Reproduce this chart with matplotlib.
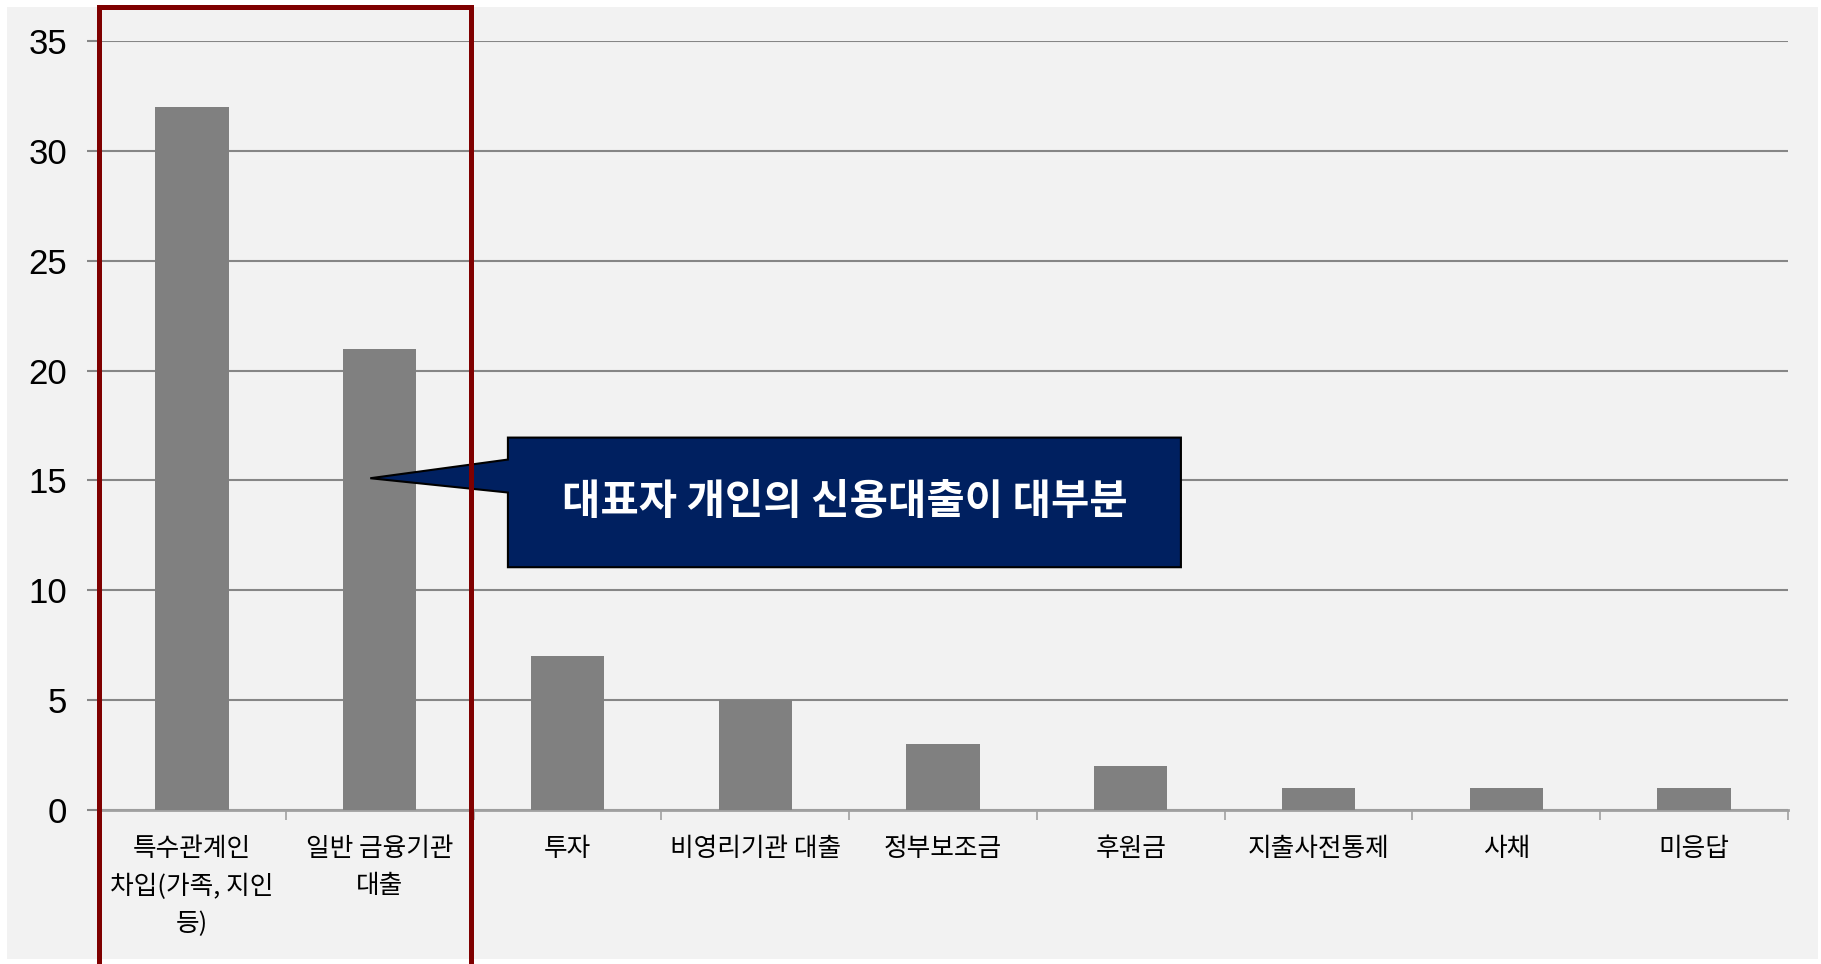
import matplotlib
matplotlib.use('Agg')
import matplotlib.pyplot as plt
from matplotlib.patches import Rectangle, Polygon
import numpy as np

# 데이터
categories = ["특수관계인\n차입(가족, 지인\n등)", "일반 금융기관\n대출", "투자", "비영리기관 대출",
              "정부보조금", "후원금", "지출사전통제", "사채", "미응답"]
values = [32, 21, 7, 5, 3, 2, 1, 1, 1]
yticks = [0, 5, 10, 15, 20, 25, 30, 35]
callout_text = "대표자 개인의 신용대출이 대부분"

W, H = 1821, 964
fig = plt.figure(figsize=(W / 100, H / 100), dpi=100)
fig.patch.set_facecolor('white')

# 배경 박스
fig.add_artist(Rectangle((7 / W, 1 - 959 / H), (1818 - 7) / W, (959 - 7) / H,
                         transform=fig.transFigure, facecolor='#F2F2F2', edgecolor='none', zorder=-5))

ax = fig.add_axes([98 / W, 1 - 810 / H, (1788 - 98) / W, (810 - 41) / H])
ax.set_facecolor('none')

x = np.arange(len(values))
ax.bar(x, values, width=0.39, color='#808080', zorder=3)

ax.set_xlim(-0.5, len(values) - 0.5)
ax.set_ylim(0, 35)

ax.set_yticks(yticks)
ax.set_yticklabels([str(v) for v in yticks], fontsize=25, family=['Liberation Sans', 'DejaVu Sans'])
ax.tick_params(axis='y', length=8, width=1.5, color='#868686', pad=14)
ax.grid(axis='y', color='#868686', linewidth=1.5, zorder=1)
ax.set_axisbelow(True)

# x축: 경계 눈금 + 가운데 라벨
ax.set_xticks(np.arange(-0.5, len(values), 1.0))
ax.set_xticklabels([])
ax.tick_params(axis='x', which='major', length=7, width=1.2, color='#A0A0A0')
ax.set_xticks(x, minor=True)
ax.set_xticklabels(categories, minor=True, fontsize=18.5,
                   family=['Noto Sans CJK KR', 'DejaVu Sans'], linespacing=1.55)
ax.tick_params(axis='x', which='minor', length=0, pad=19)

for s in ['top', 'right', 'left']:
    ax.spines[s].set_visible(False)
ax.spines['bottom'].set_color('#A0A0A0')
ax.spines['bottom'].set_linewidth(2)

# 말풍선
bx0, bx1, by0, by1 = 1.683, 5.267, 11.05, 16.95
tip = (0.95, 15.1)
pts = [(bx0, by1), (bx1, by1), (bx1, by0), (bx0, by0), (bx0, 14.45), tip, (bx0, 15.95)]
ax.add_patch(Polygon(pts, closed=True, facecolor='#002060', edgecolor='black',
                     linewidth=1.5, zorder=6, clip_on=False))
ax.text((bx0 + bx1) / 2, (by0 + by1) / 2, callout_text, color='white', fontsize=30,
        fontweight='bold', ha='center', va='center', zorder=7,
        family=['Noto Sans CJK KR', 'DejaVu Sans'])

# 빨간 강조 박스
fig.add_artist(Rectangle((99 / W, -0.05), (471 - 99) / W, 1.05 - 7 / H,
                         transform=fig.transFigure, facecolor='none', edgecolor='#7F0000',
                         linewidth=3.6, zorder=10, clip_on=False))

fig.savefig('out.png', dpi=100)
